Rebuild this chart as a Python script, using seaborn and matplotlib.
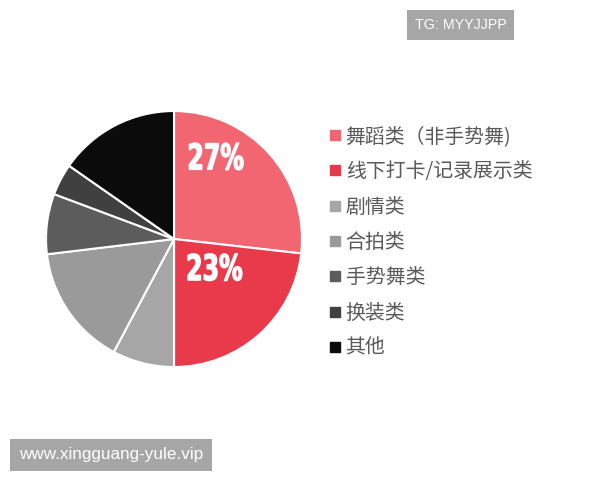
import matplotlib
matplotlib.use("Agg")
import matplotlib.pyplot as plt
import seaborn as sns
from matplotlib.lines import Line2D
from matplotlib.textpath import TextPath
from matplotlib.patches import PathPatch
from matplotlib.font_manager import FontProperties
from matplotlib.transforms import Affine2D

# shares (percent), clockwise from 12 o'clock
categories = ["舞蹈类（非手势舞)", "线下打卡/记录展示类", "剧情类", "合拍类", "手势舞类", "换装类", "其他"]
shares = [26.8, 23.2, 7.8, 15.3, 7.6, 4.0, 15.3]
shown_labels = ["27%", "23%"]
colors = ["#f26672", "#e83a4a", "#a6a6a6", "#9a9a9a", "#5c5c5c", "#404040", "#0b0b0b"]

sns.set_theme(style="white")
plt.rcParams["font.family"] = ["Noto Sans CJK SC", "DejaVu Sans"]

fig = plt.figure(figsize=(6, 4.8), dpi=100)
ax = fig.add_axes([0.0767, 0.2354, 0.4267, 0.5333])

wedges, _ = ax.pie(shares, colors=colors, startangle=90, counterclock=False,
                   wedgeprops=dict(edgecolor="white", linewidth=1.5))
ax.set_xlim(-1.0, 1.0)
ax.set_ylim(-1.0, 1.0)
ax.set_aspect("equal")


# condensed heavy percent labels (squeezed bold text path)
def condensed_label(ax, txt, cx, cy, height, width):
    prop = FontProperties(family="DejaVu Sans", weight="bold")
    tp = TextPath((0, 0), txt, size=1, prop=prop)
    ext = tp.get_extents()
    tr = (Affine2D()
          .translate(-(ext.x0 + ext.x1) / 2, -(ext.y0 + ext.y1) / 2)
          .scale(width / ext.width, height / ext.height)
          .translate(cx, cy))
    ax.add_patch(PathPatch(tr.transform_path(tp), facecolor="white",
                           edgecolor="white", linewidth=0.9))


label_pos = [(0.33, 0.645), (0.32, -0.22)]
for (x, y), txt in zip(label_pos, shown_labels):
    condensed_label(ax, txt, x, y, 27 / 128, 54 / 128)

handles = [Line2D([0], [0], marker="s", linestyle="", markersize=6.5,
                  markerfacecolor=c, markeredgecolor=c) for c in colors]
fig.legend(handles, categories, loc="upper left", bbox_to_anchor=(0.533, 0.758),
           frameon=False, fontsize=14.3, labelspacing=0.72, handlelength=0.5,
           handletextpad=0.3, labelcolor="#595959", borderpad=0)

# watermark boxes
fig.text(0.7675, 0.948, "TG: MYYJJPP", ha="center", va="center", color="white",
         fontsize=10.3, family=["Liberation Sans", "DejaVu Sans"],
         bbox=dict(boxstyle="square,pad=0.55", facecolor="#a6a6a6", edgecolor="none"))
fig.text(0.185, 0.0521, "www.xingguang-yule.vip", ha="center", va="center", color="white",
         fontsize=12.3, family=["Liberation Sans", "DejaVu Sans"],
         bbox=dict(boxstyle="square,pad=0.5", facecolor="#a6a6a6", edgecolor="none"))

fig.savefig("out.png", dpi=100)
